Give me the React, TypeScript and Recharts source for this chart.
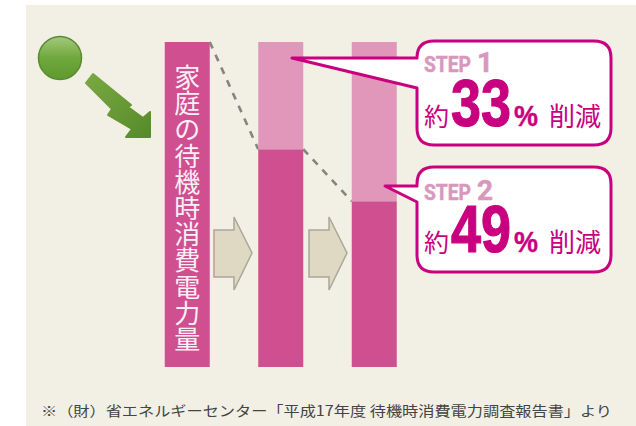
import React from 'react';
import { BarChart, Bar, XAxis, YAxis, LabelList } from 'recharts';

const categories = ['現状', 'STEP 1', 'STEP 2'];
const remaining = [100, 67, 51];
const reduced = [0, 33, 49];
const barLabels = ['家庭の待機時消費電力量', '', ''];
const stepTitles = ['STEP', 'STEP'];
const stepNumbers = ['1', '2'];
const stepPercents = ['33', '49'];
const footnote = '※（財）省エネルギーセンター「平成17年度 待機時消費電力調査報告書」より';

const data = categories.map((name, i) => ({
  name,
  remaining: remaining[i],
  reduced: reduced[i],
  label: barLabels[i],
}));

const WIDTH = 636;
const HEIGHT = 426;
const BAND = 93.5;
const BAR_WIDTH = 45;
const DARK = '#d04f90';
const LIGHT = '#e097ba';
const ACCENT = '#c8007f';
const STEP_COLOR = '#d898bd';
const CJK = '"Noto Sans CJK JP", sans-serif';

// Dark part of the bar, plus the dashed drop line coming from the previous bar
const RemainingBar = (props: any) => {
  const { x, y, width, height, index } = props;
  const unit = height / remaining[index];
  const prevY = index > 0 ? y + height - remaining[index - 1] * unit : y;
  return (
    <g>
      <rect x={x} y={y} width={width} height={height} fill={DARK} />
      {index > 0 && (
        <line
          x1={x - (BAND - BAR_WIDTH)}
          y1={prevY}
          x2={x}
          y2={y}
          stroke="#85857f"
          strokeWidth={2.6}
          strokeDasharray="7 7"
        />
      )}
    </g>
  );
};

// One glyph per line, top to bottom
const VerticalLabel = (props: any) => {
  const { x, y, width, value } = props;
  if (!value) return null;
  return (
    <g>
      {String(value).split('').map((ch, i) => (
        <text
          key={i}
          x={x + width / 2}
          y={y + 45 + i * 26.2}
          textAnchor="middle"
          fontFamily={CJK}
          fontSize={26}
          fontWeight={400}
          fill="#fbeef4"
        >
          {ch}
        </text>
      ))}
    </g>
  );
};

const STEP_BOXES = [
  { top: 41, bottom: 145, tipX: 292, tipY: 58, joinTop: 58, joinBottom: 88, stepBase: 72, mainBase: 126 },
  { top: 167, bottom: 272, tipX: 385, tipY: 186, joinTop: 186, joinBottom: 202, stepBase: 200, mainBase: 252 },
];

const Callout = ({ box, i }: { box: (typeof STEP_BOXES)[number]; i: number }) => {
  const l = 417;
  const r = 611;
  const c = 17;
  const { top, bottom, tipX, tipY, joinTop, joinBottom, stepBase, mainBase } = box;
  const d = `M${l} ${joinTop} L${tipX} ${tipY} L${l} ${joinBottom} L${l} ${bottom - c} Q${l} ${bottom} ${l + c} ${bottom}
    L${r - c} ${bottom} Q${r} ${bottom} ${r} ${bottom - c} L${r} ${top + c} Q${r} ${top} ${r - c} ${top}
    L${l + c} ${top} Q${l} ${top} ${l} ${top + c} Z`;
  return (
    <g>
      <path d={d} fill="#fff" stroke={ACCENT} strokeWidth={3} strokeLinejoin="round" />
      <text x={424} y={stepBase} fontFamily="Roboto" fontWeight={700} fontSize={22} fill={STEP_COLOR} stroke={STEP_COLOR} strokeWidth={0.5} textLength={47} lengthAdjust="spacingAndGlyphs">
        {stepTitles[i]}
      </text>
      <text x={477} y={stepBase} fontFamily="Roboto" fontWeight={700} fontSize={28} fill={STEP_COLOR} stroke={STEP_COLOR} strokeWidth={0.5}>
        {stepNumbers[i]}
      </text>
      <text x={424} y={mainBase} fontFamily={CJK} fontSize={25} fill={ACCENT}>約</text>
      <text x={451} y={mainBase} fontFamily="Liberation Sans" fontWeight={700} fontSize={66} fill={ACCENT} stroke={ACCENT} strokeWidth={1.2} textLength={60} lengthAdjust="spacingAndGlyphs">
        {stepPercents[i]}
      </text>
      <text x={514} y={mainBase} fontFamily="Liberation Sans" fontWeight={700} fontSize={29} fill={ACCENT} stroke={ACCENT} strokeWidth={0.4} textLength={24} lengthAdjust="spacingAndGlyphs">%</text>
      <text x={549} y={mainBase} fontFamily={CJK} fontSize={26} fill={ACCENT}>削減</text>
    </g>
  );
};

const StepArrow = ({ x }: { x: number }) => (
  <polygon
    points={`${x},230 ${x + 20},230 ${x + 20},217 ${x + 38},253 ${x + 20},290 ${x + 20},277 ${x},277`}
    fill="#dfd8c3"
    stroke="#aaa79b"
    strokeWidth={1.5}
  />
);

export default function App() {
  return (
    <div style={{ position: 'absolute', left: 0, top: 0, width: WIDTH, height: HEIGHT, background: '#fff', overflow: 'hidden' }}>
      <div style={{ position: 'absolute', left: 26, top: 5, right: 0, bottom: 0, background: '#f2efe4' }} />
      <div style={{ position: 'absolute', left: 0, top: 0 }}>
        <BarChart
          width={WIDTH}
          height={HEIGHT}
          data={data}
          barSize={BAR_WIDTH}
          barCategoryGap={0}
          margin={{ top: 42, bottom: 59, left: 187.5 - BAND / 2, right: WIDTH - 187.5 - BAND * 2.5 }}
        >
          <XAxis dataKey="name" hide />
          <YAxis hide domain={[0, 100]} />
          <Bar dataKey="remaining" stackId="a" shape={RemainingBar} isAnimationActive={false}>
            <LabelList dataKey="label" content={VerticalLabel} />
          </Bar>
          <Bar dataKey="reduced" stackId="a" fill={LIGHT} isAnimationActive={false} />
        </BarChart>
      </div>
      <svg width={WIDTH} height={HEIGHT} style={{ position: 'absolute', left: 0, top: 0, pointerEvents: 'none' }}>
        <defs>
          <linearGradient id="ball" x1="0" y1="0" x2="0" y2="1">
            <stop offset="0" stopColor="#a4c97c" />
            <stop offset="0.5" stopColor="#6fa83c" />
            <stop offset="1" stopColor="#5f9a2e" />
          </linearGradient>
          <linearGradient id="bolt" x1="0" y1="0" x2="1" y2="1">
            <stop offset="0" stopColor="#7aa942" />
            <stop offset="1" stopColor="#568a2a" />
          </linearGradient>
        </defs>
        <circle cx={60} cy={58} r={21.5} fill="url(#ball)" stroke="#5a8a30" strokeWidth={1.5} />
        <polygon
          points="86,83 93,74 131,105 128,107 143,118 150,112 150,137 126,137 132,129 108,115 112,109"
          fill="url(#bolt)"
          stroke="url(#bolt)"
          strokeWidth={2}
          strokeLinejoin="round"
        />
        <StepArrow x={214} />
        <StepArrow x={309} />
        {STEP_BOXES.map((box, i) => (
          <Callout key={i} box={box} i={i} />
        ))}
        <text x={41} y={416} fontFamily={CJK} fontSize={14} fill="#444" textLength={571} lengthAdjust="spacingAndGlyphs">
          {footnote}
        </text>
      </svg>
    </div>
  );
}
